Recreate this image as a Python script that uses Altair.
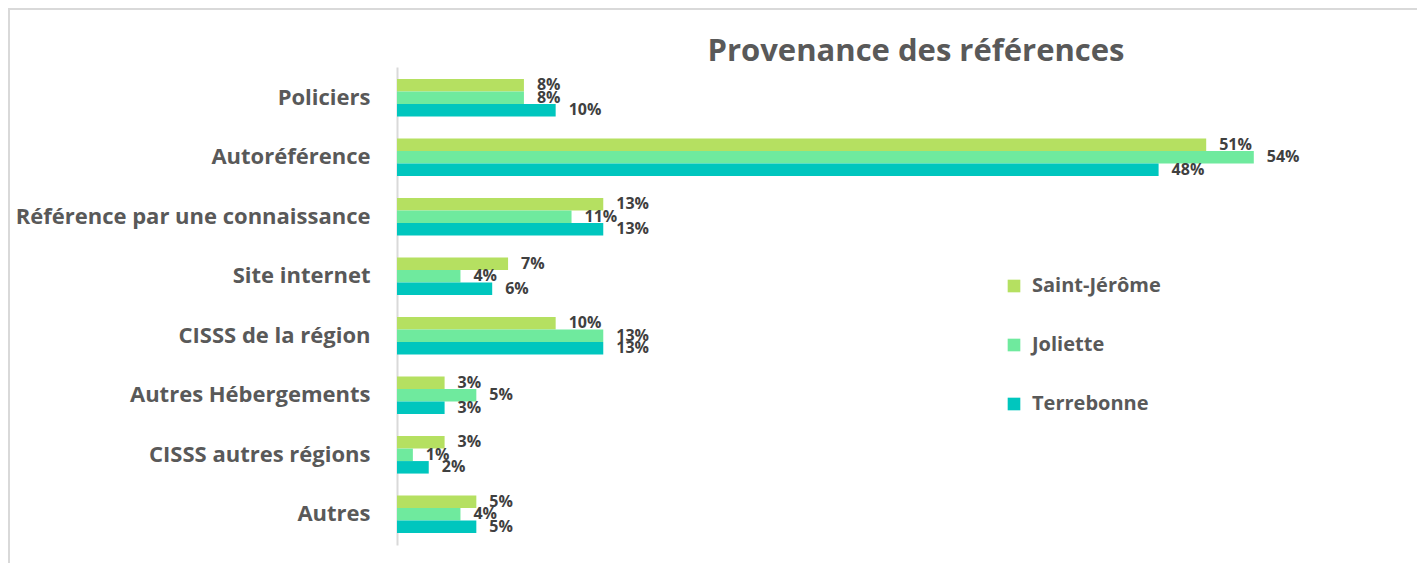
import altair as alt
import pandas as pd

categories = ["Policiers", "Autoréférence", "Référence par une connaissance", "Site internet",
              "CISSS de la région", "Autres Hébergements", "CISSS autres régions", "Autres"]
series = ["Saint-Jérôme", "Joliette", "Terrebonne"]
saint_jerome = [8, 51, 13, 7, 10, 3, 3, 5]
joliette = [8, 54, 11, 4, 13, 5, 1, 4]
terrebonne = [10, 48, 13, 6, 13, 3, 2, 5]
colors = ["#B5E061", "#6FEA9E", "#00C6BE"]

rows = []
for s, vals in zip(series, [saint_jerome, joliette, terrebonne]):
    for c, v in zip(categories, vals):
        rows.append({"cat": c, "serie": s, "val": v, "lab": f"{v}%"})
df = pd.DataFrame(rows)

FONT = "Open Sans"

y = alt.Y("cat:N", sort=categories, title=None,
          scale=alt.Scale(paddingInner=0.37, paddingOuter=0.2),
          axis=alt.Axis(labelFontSize=22, labelFontWeight="bold", labelColor="#595959",
                        labelFont=FONT, ticks=False, labelPadding=27, domainColor="#D9D9D9",
                        domainWidth=2, labelLimit=420))
yoff = alt.YOffset("serie:N", sort=series, scale=alt.Scale(domain=series))
x = alt.X("val:Q", scale=alt.Scale(domain=[0, 60]), axis=None)

bars = alt.Chart(df).mark_bar(size=12.5).encode(
    x=x, y=y, yOffset=yoff,
    color=alt.Color("serie:N", sort=series,
                    scale=alt.Scale(domain=series, range=colors),
                    legend=alt.Legend(title=None, orient="none", legendX=607, legendY=209,
                                      symbolType="square", symbolSize=160, symbolStrokeWidth=0,
                                      labelFontSize=20, labelFontWeight="bold", labelColor="#595959",
                                      labelFont=FONT, rowPadding=39, labelOffset=8)),
)
labels = alt.Chart(df).mark_text(align="left", baseline="middle", dx=13, fontSize=16,
                                 fontWeight="bold", color="#404040", font=FONT).encode(
    x=x, y=alt.Y("cat:N", sort=categories), yOffset=yoff, text="lab:N")

frame_df = pd.DataFrame({"k": [0]})
top_line = alt.Chart(frame_df).mark_rule(color="#D9D9D9", strokeWidth=2).encode(
    x=alt.value(-389), x2=alt.value(1030), y=alt.value(-58))
left_line = alt.Chart(frame_df).mark_rule(color="#D9D9D9", strokeWidth=2).encode(
    x=alt.value(-388), y=alt.value(-58), y2=alt.value(500))

chart = alt.layer(top_line, left_line, bars, labels).properties(
    width=952, height=478,
    title=alt.TitleParams("Provenance des références", fontSize=31, fontWeight="bold",
                          color="#595959", font=FONT, anchor="middle", frame="group",
                          dx=43, dy=65, offset=5),
    autosize=alt.AutoSizeParams(type="none"),
    padding={"left": 389, "top": 59, "right": 68, "bottom": 18},
).configure(background="white").configure_view(stroke=None)

chart.save("out.html", embed_options={"renderer": "svg", "actions": False})
